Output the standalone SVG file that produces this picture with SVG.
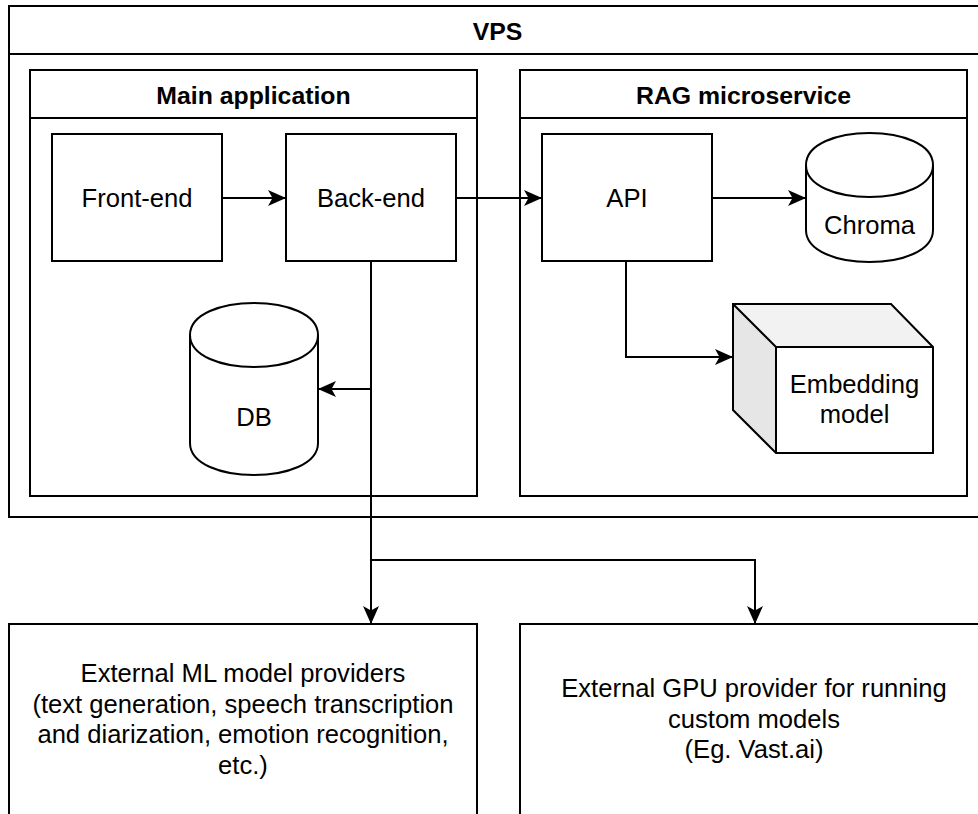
<svg xmlns="http://www.w3.org/2000/svg" width="978" height="814" viewBox="0 0 978 814">
  <style>
    .box { fill: #ffffff; stroke: #000000; stroke-width: 2; }
    .sep { fill: none; stroke: #000000; stroke-width: 2; }
    .edge { fill: none; stroke: #000000; stroke-width: 2; }
    .lbl { font-family: "Liberation Sans", Arial, Helvetica, sans-serif; font-size: 25.6px; fill: #000000; text-anchor: middle; }
    .hdr { font-family: "Liberation Sans", Arial, Helvetica, sans-serif; font-size: 24.8px; font-weight: bold; fill: #000000; text-anchor: middle; }
  </style>
  <defs>
    <marker id="arrow" viewBox="0 0 18 17" refX="18" refY="8.5" markerWidth="18" markerHeight="17" markerUnits="userSpaceOnUse" orient="auto">
      <path d="M0,0.5 L18,8.5 L0,16.5 L4.5,8.5 Z" fill="#000000"/>
    </marker>
  </defs>

  <rect width="978" height="814" fill="#ffffff"/>

  <!-- VPS container -->
  <g id="vps">
    <rect class="box" x="9" y="6" width="977" height="511"/>
    <line class="sep" x1="9" y1="54" x2="986" y2="54"/>
    <text class="hdr" x="497.5" y="40">VPS</text>
  </g>

  <!-- Main application container -->
  <g id="main-app">
    <rect class="box" x="30" y="70" width="447" height="426"/>
    <line class="sep" x1="30" y1="118" x2="477" y2="118"/>
    <text class="hdr" x="253.5" y="104">Main application</text>
  </g>

  <!-- RAG microservice container -->
  <g id="rag">
    <rect class="box" x="520" y="70" width="447" height="426"/>
    <line class="sep" x1="520" y1="118" x2="967" y2="118"/>
    <text class="hdr" x="743.5" y="104">RAG microservice</text>
  </g>

  <g id="front-end">
    <rect class="box" x="52" y="134" width="170" height="127"/>
    <text class="lbl" x="137" y="207">Front-end</text>
  </g>

  <g id="back-end">
    <rect class="box" x="286" y="134" width="170" height="127"/>
    <text class="lbl" x="371" y="207">Back-end</text>
  </g>

  <g id="api">
    <rect class="box" x="542" y="134" width="170" height="127"/>
    <text class="lbl" x="627" y="207">API</text>
  </g>

  <!-- cylinder: x 806..933, y 133..262 -->
  <g id="chroma">
    <path class="box" d="M806,165 C806,122.3 933,122.3 933,165 L933,230 C933,272.7 806,272.7 806,230 Z"/>
    <path class="sep" d="M806,165 C806,207.7 933,207.7 933,165"/>
    <text class="lbl" x="869.5" y="234">Chroma</text>
  </g>

  <!-- cylinder: x 190..318, y 303..475 -->
  <g id="db">
    <path class="box" d="M190,335 C190,292.3 318,292.3 318,335 L318,443 C318,485.7 190,485.7 190,443 Z"/>
    <path class="sep" d="M190,335 C190,377.7 318,377.7 318,335"/>
    <text class="lbl" x="254" y="426">DB</text>
  </g>

  <!-- cube: x 733..933, y 304..453, depth 43 -->
  <g id="embedding-model">
    <path d="M733,304 L891,304 L933,347 L776,347 Z" fill="#f2f2f2" stroke="none"/>
    <path d="M733,304 L776,347 L776,453 L733,410 Z" fill="#e6e6e6" stroke="none"/>
    <path d="M776,347 L933,347 L933,453 L776,453 Z" fill="#ffffff" stroke="none"/>
    <path class="sep" d="M733,304 L891,304 L933,347 L933,453 L776,453 L733,410 Z"/>
    <path class="sep" d="M733,304 L776,347 L933,347 M776,347 L776,453"/>
    <text class="lbl" x="854.5" y="393">Embedding</text>
    <text class="lbl" x="854.5" y="423">model</text>
  </g>

  <g id="ml-providers">
    <rect class="box" x="9" y="624" width="468" height="210"/>
    <text class="lbl" x="243" y="682">External ML model providers</text>
    <text class="lbl" x="243" y="712.5">(text generation, speech transcription</text>
    <text class="lbl" x="243" y="743">and diarization, emotion recognition,</text>
    <text class="lbl" x="243" y="773.5">etc.)</text>
  </g>

  <g id="gpu-provider">
    <rect class="box" x="520" y="624" width="468" height="210"/>
    <text class="lbl" x="754" y="697">External GPU provider for running</text>
    <text class="lbl" x="754" y="727.5">custom models</text>
    <text class="lbl" x="754" y="758">(Eg. Vast.ai)</text>
  </g>

  <g id="connectors">
    <path class="edge" d="M222,198 L286,198" marker-end="url(#arrow)"/>
    <path class="edge" d="M456,198 L542,198" marker-end="url(#arrow)"/>
    <path class="edge" d="M712,198 L806,198" marker-end="url(#arrow)"/>
    <path class="edge" d="M626,261 L626,357 L733,357" marker-end="url(#arrow)"/>
    <path class="edge" d="M371,261 L371,389 L318,389" marker-end="url(#arrow)"/>
    <path class="edge" d="M371,261 L371,624" marker-end="url(#arrow)"/>
    <path class="edge" d="M371,261 L371,560 L755,560 L755,624" marker-end="url(#arrow)"/>
  </g>
</svg>
